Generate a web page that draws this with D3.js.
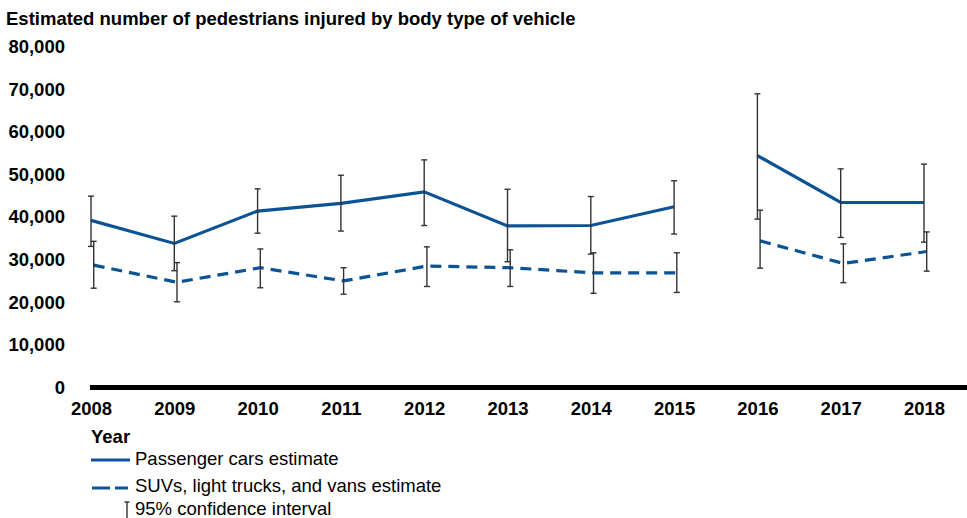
<!DOCTYPE html>
<html>
<head>
<meta charset="utf-8">
<script src="https://cdn.jsdelivr.net/npm/d3@7"></script>
<style>
body { margin:0; background:#fff; }
text { font-family: "Liberation Sans", Arial, sans-serif; fill:#000; }
</style>
</head>
<body>
<svg width="967" height="518"></svg>
<script>
// data
var years = [2008, 2009, 2010, 2011, 2012, 2013, 2014, 2015, 2016, 2017, 2018];
var carEst = [39200, 33800, 41400, 43200, 45900, 37900, 38000, 42400, 54400, 43400, 43400];
var carLow = [33100, 27400, 36200, 36700, 38000, 29500, 31300, 36000, 39500, 35200, 34100];
var carHigh = [44900, 40200, 46600, 49800, 53400, 46500, 44800, 48500, 68900, 51300, 52400];
var suvEst = [28700, 24700, 28100, 25000, 28500, 28100, 26900, 26900, 34400, 29100, 31900];
var suvLow = [23300, 20100, 23400, 21900, 23700, 23700, 22100, 22300, 28000, 24600, 27300];
var suvHigh = [34300, 29300, 32500, 28100, 33000, 32300, 31600, 31600, 41600, 33700, 36500];
var yTicks = [0, 10000, 20000, 30000, 40000, 50000, 60000, 70000, 80000];

var blue = "#0b5394";
var fs = "18.5px";
var svg = d3.select("svg");

var x = d3.scalePoint().domain(years).range([91, 924]);
var y = d3.scaleLinear().domain([0, 80000]).range([387.5, 46.5]);

// title
svg.append("text")
	.attr("x", 6).attr("y", 25)
	.style("font-size", fs).style("font-weight", "bold")
	.text("Estimated number of pedestrians injured by body type of vehicle");

// y axis labels
var yAxis = d3.axisLeft(y).tickValues(yTicks).tickSize(0).tickPadding(0)
	.tickFormat(d3.format(","));
var gy = svg.append("g").attr("transform", "translate(65,0)").call(yAxis);
gy.select(".domain").remove();
gy.selectAll("text")
	.style("font-family", "'Liberation Sans', Arial, sans-serif")
	.style("font-size", fs).style("font-weight", "bold").attr("fill", "#000");

// x axis
var xAxis = d3.axisBottom(x).tickSize(0).tickPadding(0).tickFormat(d3.format("d"));
var gx = svg.append("g").attr("transform", "translate(0,402)").call(xAxis);
gx.select(".domain").remove();
gx.selectAll("text")
	.style("font-family", "'Liberation Sans', Arial, sans-serif")
	.style("font-size", fs).style("font-weight", "bold").attr("fill", "#000");

svg.append("line")
	.attr("x1", 90).attr("x2", 967)
	.attr("y1", y(0)).attr("y2", y(0))
	.attr("stroke", "#000").attr("stroke-width", 5);

// series; gap between 2015 and 2016
function drawSeries(est, low, high, dx, dash) {
	var pts = years.map(function(yr, i) { return {yr: yr, v: est[i], lo: low[i], hi: high[i]}; });
	var line = d3.line()
		.x(function(d) { return x(d.yr) + dx; })
		.y(function(d) { return y(d.v); });
	var parts = [pts.filter(function(d) { return d.yr <= 2015; }), pts.filter(function(d) { return d.yr >= 2016; })];
	parts.forEach(function(p) {
		svg.append("path").datum(p)
			.attr("d", line)
			.attr("fill", "none")
			.attr("stroke", blue)
			.attr("stroke-width", 3.2)
			.attr("stroke-dasharray", dash);
	});
	var g = svg.append("g").attr("stroke", "#333").attr("stroke-width", 1.4);
	pts.forEach(function(d) {
		var cx = x(d.yr) + dx;
		g.append("line").attr("x1", cx).attr("x2", cx).attr("y1", y(d.hi)).attr("y2", y(d.lo));
		g.append("line").attr("x1", cx - 3).attr("x2", cx + 3).attr("y1", y(d.hi)).attr("y2", y(d.hi));
		g.append("line").attr("x1", cx - 3).attr("x2", cx + 3).attr("y1", y(d.lo)).attr("y2", y(d.lo));
	});
}
drawSeries(carEst, carLow, carHigh, 0, null);
drawSeries(suvEst, suvLow, suvHigh, 2.7, "11,7");

// legend
svg.append("text").attr("x", 91).attr("y", 443)
	.style("font-size", fs).style("font-weight", "bold").text("Year");
svg.append("line").attr("x1", 91).attr("x2", 130).attr("y1", 460).attr("y2", 460)
	.attr("stroke", blue).attr("stroke-width", 3);
svg.append("text").attr("x", 135).attr("y", 465).style("font-size", fs)
	.text("Passenger cars estimate");
svg.append("line").attr("x1", 92).attr("x2", 128).attr("y1", 488).attr("y2", 488)
	.attr("stroke", blue).attr("stroke-width", 3).attr("stroke-dasharray", "18,5");
svg.append("text").attr("x", 135).attr("y", 492).style("font-size", fs)
	.text("SUVs, light trucks, and vans estimate");
var lg = svg.append("g").attr("stroke", "#333").attr("stroke-width", 1.4);
lg.append("line").attr("x1", 127).attr("x2", 127).attr("y1", 502).attr("y2", 518);
lg.append("line").attr("x1", 124.5).attr("x2", 129.5).attr("y1", 502).attr("y2", 502);
svg.append("text").attr("x", 135).attr("y", 515).style("font-size", fs)
	.text("95% confidence interval");
</script>
</body>
</html>
